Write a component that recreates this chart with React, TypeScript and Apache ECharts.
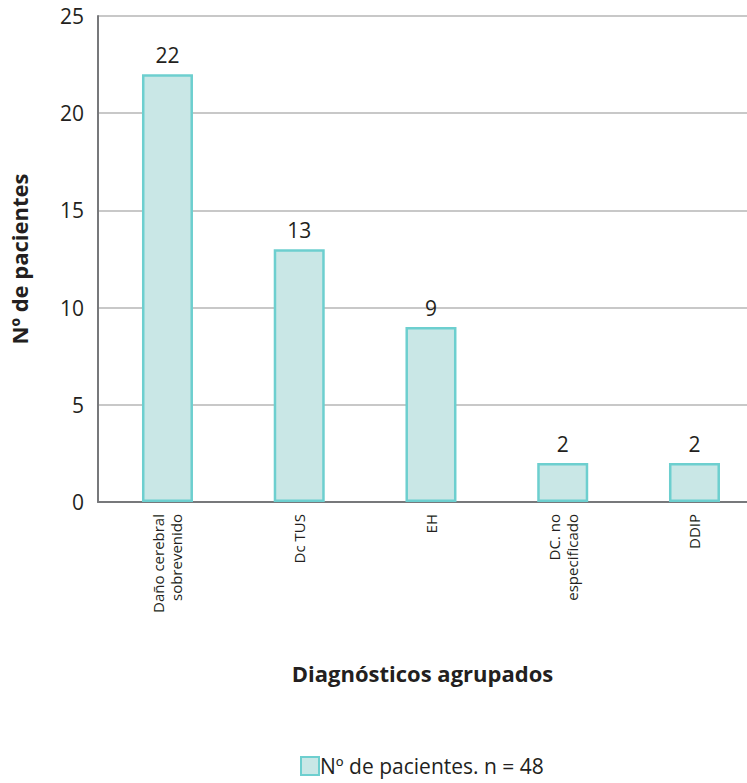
import React, { useEffect, useRef } from "react";
import * as echarts from "echarts";

const categories = [
  "Daño cerebral\nsobrevenido",
  "Dc TUS",
  "EH",
  "DC. no\nespecificado",
  "DDIP",
];
const patients = [22, 13, 9, 2, 2];
const yTicks = { min: 0, max: 25, interval: 5 };
const seriesName = "Nº de pacientes. n = 48";
const xTitle = "Diagnósticos agrupados";
const yTitle = "Nº de pacientes";

const FONT = "'Open Sans', 'Noto Sans', sans-serif";
const TEXT = "#231f20";
const AXIS = "#77787b";

// The plot runs past the visible right edge, so the chart canvas is wider
// than the frame that shows it.
const VIEW_W = 747;
const CHART_W = 775;
const H = 783;

export default function App() {
  const ref = useRef<HTMLDivElement>(null);

  useEffect(() => {
    document.body.style.margin = "0";
    if (!ref.current) return;
    const chart = echarts.init(ref.current, undefined, { renderer: "svg" });
    chart.setOption({
      animation: false,
      backgroundColor: "#ffffff",
      textStyle: { fontFamily: FONT, color: TEXT },
      grid: [
        // bars
        { left: 101.6, top: 16, width: 658.75, height: 486 },
        // axis frame and gridlines
        { left: 95, top: 16, right: CHART_W - VIEW_W, height: 486 },
      ],
      xAxis: [
        {
          type: "category",
          gridIndex: 0,
          data: categories,
          axisLine: { show: false },
          axisTick: { show: false },
          axisLabel: {
            rotate: 90,
            margin: 12,
            fontSize: 15,
            lineHeight: 18,
            color: TEXT,
            fontFamily: FONT,
          },
        },
        {
          type: "value",
          gridIndex: 1,
          min: 0,
          max: 1,
          axisLine: { show: true, lineStyle: { color: AXIS, width: 2 } },
          axisTick: { show: false },
          axisLabel: { show: false },
          splitLine: { show: false },
          name: xTitle,
          nameLocation: "middle",
          nameGap: 160,
          nameTextStyle: {
            fontSize: 22,
            fontWeight: "bold",
            color: TEXT,
            fontFamily: FONT,
          },
        },
      ],
      yAxis: [
        {
          type: "value",
          gridIndex: 0,
          min: yTicks.min,
          max: yTicks.max,
          interval: yTicks.interval,
          show: false,
        },
        {
          type: "value",
          gridIndex: 1,
          min: yTicks.min,
          max: yTicks.max,
          interval: yTicks.interval,
          axisLine: { show: true, lineStyle: { color: AXIS, width: 2 } },
          axisTick: { show: false },
          axisLabel: {
            fontSize: 21,
            margin: 14,
            color: TEXT,
            fontFamily: FONT,
          },
          splitLine: { show: true, lineStyle: { color: "#c8c8c8", width: 2 } },
          name: yTitle,
          nameLocation: "middle",
          nameGap: 68,
          nameTextStyle: {
            fontSize: 22,
            fontWeight: "bold",
            color: TEXT,
            fontFamily: FONT,
          },
        },
      ],
      legend: {
        left: 300,
        top: 755,
        padding: 0,
        icon: "rect",
        itemWidth: 18,
        itemHeight: 18,
        itemGap: 6,
        textStyle: {
          fontSize: 21,
          lineHeight: 22,
          color: TEXT,
          fontFamily: FONT,
          padding: [0, 0, 0, -4],
        },
        data: [seriesName],
      },
      series: [
        {
          name: seriesName,
          type: "bar",
          xAxisIndex: 0,
          yAxisIndex: 0,
          data: patients,
          barWidth: 51,
          itemStyle: {
            color: "#c9e7e6",
            borderColor: "#6dcfcf",
            borderWidth: 2.5,
          },
          label: {
            show: true,
            position: "top",
            distance: 9,
            fontSize: 21,
            color: TEXT,
            fontFamily: FONT,
          },
        },
      ],
    });
    return () => chart.dispose();
  }, []);

  return (
    <div style={{ width: VIEW_W, height: H, overflow: "hidden" }}>
      <div ref={ref} style={{ width: CHART_W, height: H }} />
    </div>
  );
}
